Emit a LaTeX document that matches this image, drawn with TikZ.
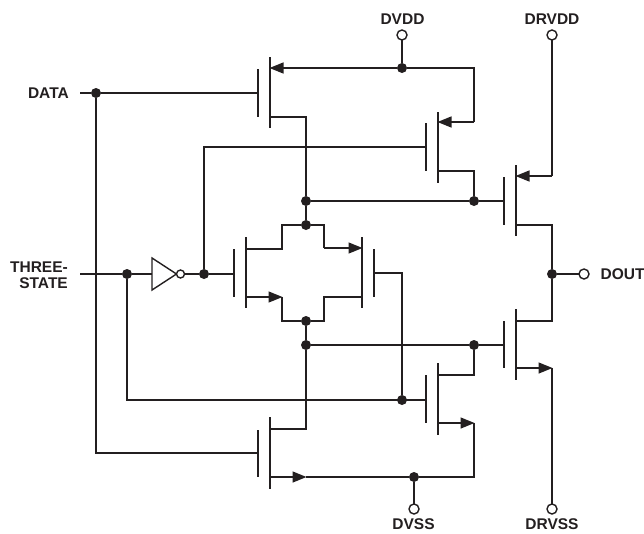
\documentclass[tikz,border=0pt]{standalone}
\usepackage{fontspec}
\setmainfont{Liberation Sans}
\usetikzlibrary{arrows.meta}
\definecolor{ink}{HTML}{231F20}
\tikzset{
  wire/.style={draw=ink,line width=1.4pt},
  bar/.style={draw=ink,line width=1.5pt},
  tipw/.style={wire,-{Triangle[length=14pt,width=11pt,color=ink]},shorten >=-0.5pt},
  dot/.style={circle,fill=ink,inner sep=0pt,minimum size=10pt},
  port/.style={circle,draw=ink,fill=white,line width=1.4pt,inner sep=0pt,minimum size=10pt},
  lab/.style={text=ink,font=\bfseries\fontsize{15.5}{16}\selectfont,inner sep=0pt},
}
\begin{document}
\begin{tikzpicture}[x=1pt,y=-1pt]
\useasboundingbox (0,0) rectangle (644,533);
% labels
\node[lab] (lDVDD) at (402.5,19) {DVDD};
\node[lab] (lDRVDD) at (552,19) {DRVDD};
\node[lab,anchor=east] (lDATA) at (69,93) {DATA};
\node[lab,anchor=east,align=right] (lTS) at (68,275) {THREE-\\STATE};
\node[lab,anchor=west] (lDOUT) at (600.5,274.5) {DOUT};
\node[lab] (lDVSS) at (413.5,524) {DVSS};
\node[lab] (lDRVSS) at (552,524) {DRVSS};
% named points
\foreach \n/\x/\y in {
 a1/80/93, ts0/80/274, g1/258/93, g2/426/147, g2l/204/147,
 s1/270/68, d1/270/117, d1r/306/117,
 s2/438/122, s2r/474/122, s2t/474/68, d2/438/171, d2r/474/171,
 s3/516/176, s3r/552/176, d3/516/225, d3r/552/225, g3/504/201,
 tl1/246/249, tl2/282/249, tl3/282/225, tr3/324/225, tr2/324/248, tr1/362/248,
 bl1/246/297, bl2/282/297, bl3/282/321, br3/324/321, br2/324/297, br1/362/297,
 gl/234/274, gr/374/273, grr/402/273,
 g4/426/400, t0/127/400, g5/504/345,
 d6/438/375, d6r/474/375, s6/438/423, s6r/474/423, s6b/474/477,
 d7/270/429, d7r/306/429, s7/270/477, s7r/306/477, g7/258/453, a2/96/453,
 d8/516/321, d8r/552/321, s8/516/368, s8r/552/368}
 {\coordinate (\n) at (\x,\y);}
% junctions
\node[dot] (jVDD) at (402,68) {};
\node[dot] (jA) at (96,93) {};
\node[dot] (jU) at (306,201) {};
\node[dot] (jUr) at (474,201) {};
\node[dot] (jPu) at (306,225) {};
\node[dot] (jT) at (127,274) {};
\node[dot] (jI) at (204,274) {};
\node[dot] (jO) at (552,274) {};
\node[dot] (jPd) at (306,321) {};
\node[dot] (jL) at (306,345) {};
\node[dot] (jLr) at (474,345) {};
\node[dot] (jG) at (402,400) {};
\node[dot] (jSS) at (414,477) {};
% wires
\draw[wire] (a1) -- (jA) -- (g1);
\draw[wire] (jA) -- (a2) -- (g7);
\draw[wire] (jVDD) -- (402,35);
\draw[tipw] (jVDD) -- (s1);
\draw[wire] (jVDD) -- (s2t) -- (s2r);
\draw[tipw] (s2r) -- (s2);
\draw[wire] (d1) -- (d1r) -- (jU);
\draw[wire] (jI) -- (g2l) -- (g2);
\draw[wire] (d2) -- (d2r) -- (jUr);
\draw[wire] (jU) -- (jUr) -- (g3);
\draw[wire] (jU) -- (jPu);
\draw[wire] (552,35) -- (s3r);
\draw[tipw] (s3r) -- (s3);
\draw[wire] (d3) -- (d3r) -- (jO) -- (d8r) -- (d8);
\draw[wire] (jO) -- (584,274);
\draw[wire] (ts0) -- (jT) -- (152,274);
\draw[wire] (180,274) -- (jI) -- (gl);
\draw[wire] (jT) -- (t0) -- (g4);
\draw[wire] (tl1) -- (tl2) -- (tl3) -- (jPu) -- (tr3) -- (tr2);
\draw[tipw] (tr2) -- (tr1);
\draw[tipw] (bl1) -- (bl2);
\draw[wire] (bl2) -- (bl3) -- (jPd) -- (br3) -- (br2) -- (br1);
\draw[wire] (gr) -- (grr) -- (jG);
\draw[wire] (jPd) -- (jL) -- (jLr) -- (g5);
\draw[wire] (jL) -- (d7r) -- (d7);
\draw[wire] (d6) -- (d6r) -- (jLr);
\draw[tipw] (s6) -- (s6r);
\draw[tipw] (s7) -- (s7r);
\draw[wire] (s7r) -- (jSS) -- (s6b) -- (s6r);
\draw[wire] (jSS) -- (414,509);
\draw[tipw] (s8) -- (s8r);
\draw[wire] (s8r) -- (552,509);
% ports
\node[port] (pVDD) at (402,35) {};
\node[port] (pRVDD) at (552,35) {};
\node[port] (pOUT) at (584,274) {};
\node[port] (pSS) at (414,509) {};
\node[port] (pRSS) at (552,509) {};
% inverter
\coordinate (invA) at (152,258);
\coordinate (invB) at (152,290);
\coordinate (invC) at (176.5,274);
\draw[wire,line join=miter,fill=white] (invA) -- (invC) -- (invB) -- cycle;
\node[port,minimum size=8pt] (invO) at (180.5,274) {};
% gate and channel bars
\foreach \x/\a/\b in {258/69/117, 426/123/171, 504/177/225, 234/249/297, 374/249/297, 426/375/423, 258/430/477, 504/321/368}{
  \draw[bar] (\x,\a) -- (\x,\b);
}
\foreach \x/\a/\b in {270/57/128, 438/112/183, 516/165/236, 246/237/308, 362/237/308, 438/363/435, 270/417/489, 516/309/380}{
  \draw[bar] (\x,\a) -- (\x,\b);
}
\end{tikzpicture}
\end{document}
